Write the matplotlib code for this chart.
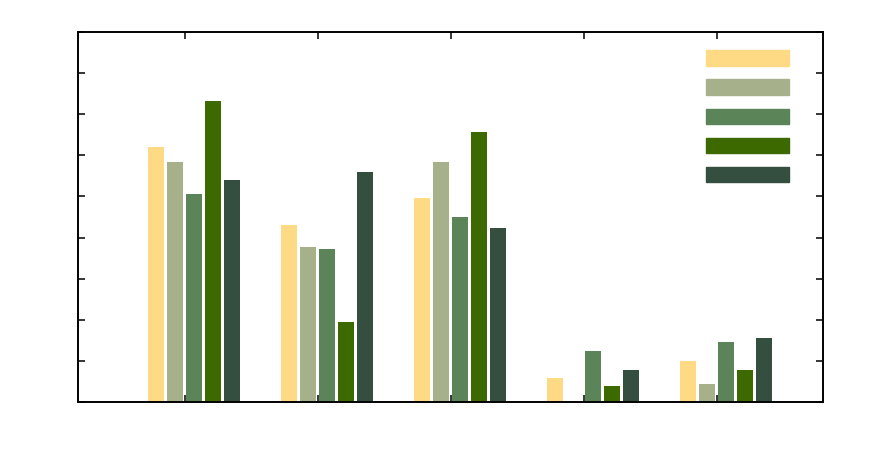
import numpy as np
import matplotlib.pyplot as plt
from matplotlib.patches import Patch

groups = [0, 1, 2, 3, 4]
series_a = [6.20, 4.31, 4.96, 0.58, 1.00]
series_b = [5.84, 3.77, 5.84, 0.00, 0.44]
series_c = [5.06, 3.72, 4.50, 1.24, 1.46]
series_d = [7.32, 1.95, 6.57, 0.39, 0.78]
series_e = [5.40, 5.60, 4.23, 0.78, 1.56]
colors = ["#FFDA84", "#A6B18C", "#5B8559", "#3D6A00", "#344F40"]

fig = plt.figure(figsize=(8.72, 4.61), dpi=100)
ax = fig.add_axes([0.0894, 0.128, 0.8544, 0.8026])

x = np.array(groups)
step = 0.143
width = 0.12
all_series = [series_a, series_b, series_c, series_d, series_e]
for i, (vals, col) in enumerate(zip(all_series, colors)):
    ax.bar(x + 0.07 + (i - 2) * step, vals, width, color=col)

ax.set_xlim(-0.805, 4.797)
ax.set_ylim(0, 9)
ax.set_xticks(groups)
ax.set_yticks(range(0, 10))
ax.tick_params(direction="in", length=5, width=1.1, top=True, right=True,
               labelbottom=False, labelleft=False)
for s in ax.spines.values():
    s.set_linewidth(1.4)

handles = [Patch(color=c) for c in colors]
ax.legend(handles, [" "] * 5, loc="upper left", bbox_to_anchor=(0.8336, 0.969),
          frameon=False, borderpad=0, handlelength=6.0, handleheight=1.32,
          labelspacing=0.99, handletextpad=0)

fig.savefig("out.png")
